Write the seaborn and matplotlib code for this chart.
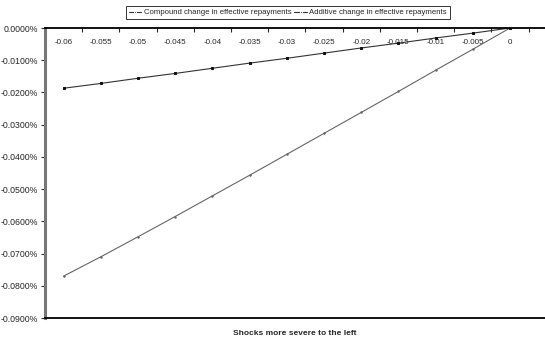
import pandas as pd
import numpy as np
import seaborn as sns
import matplotlib.pyplot as plt
from matplotlib.ticker import FuncFormatter, FixedLocator

# shock sizes (categories, left to right)
shocks = ['-0.06', '-0.055', '-0.05', '-0.045', '-0.04', '-0.035', '-0.03',
          '-0.025', '-0.02', '-0.015', '-0.01', '-0.005', '0']

# percent change in effective repayments (values in %)
compound = [-0.0770, -0.0710, -0.0648, -0.0585, -0.0521, -0.0457, -0.0392,
            -0.0327, -0.0262, -0.0197, -0.0131, -0.0066, 0.0]
additive = [-0.0187, -0.0172, -0.0156, -0.0141, -0.0125, -0.0109, -0.0094,
            -0.0078, -0.0062, -0.0047, -0.0031, -0.0016, 0.0]

y_ticks = [0.0, -0.01, -0.02, -0.03, -0.04, -0.05, -0.06, -0.07, -0.08, -0.09]

df = pd.DataFrame({
    'pos': list(range(len(shocks))) * 2,
    'value': compound + additive,
    'series': ['Compound change in effective repayments'] * len(shocks)
              + ['Additive change in effective repayments'] * len(shocks),
})

sns.set_style('white')
plt.rcParams['font.family'] = ['Liberation Sans', 'DejaVu Sans']

fig = plt.figure(figsize=(5.45, 3.37), dpi=100)
ax = fig.add_axes([45 / 545, 19 / 337, 500 / 545, 290 / 337])

sns.lineplot(data=df, x='pos', y='value', hue='series', style='series',
             palette=['#666666', '#333333'], markers=['o', 's'], dashes=False,
             linewidth=0.8, ax=ax)

# compound points are barely visible in the original, additive ones are small squares
ax.lines[0].set_markersize(1.0)
ax.lines[0].set_markeredgecolor('#666666')
ax.lines[1].set_markersize(2.0)
ax.lines[1].set_markeredgecolor('#111111')
ax.lines[1].set_markerfacecolor('#111111')

ax.set_ylim(-0.09, 0.0)
ax.set_xlim(-0.5, 12.94)
ax.yaxis.set_major_locator(FixedLocator(y_ticks))
ax.yaxis.set_major_formatter(FuncFormatter(lambda v, p: f'{v:.4f}%'))
ax.tick_params(axis='y', left=True, direction='out', length=3, width=0.8,
               labelsize=6.3, pad=2, color='#333333')

# category labels just below the zero line at the top
ax.set_xticks(range(len(shocks)))
ax.set_xticklabels(shocks)
ax.set_xticks(np.arange(-0.5, len(shocks) + 0.5, 1.0), minor=True)
ax.tick_params(axis='x', which='major', top=True, bottom=False, labeltop=True,
               labelbottom=False, length=0, pad=-13, labelsize=5.8)
ax.tick_params(axis='x', which='minor', top=True, bottom=False,
               direction='in', length=3, width=0.8)

for s in ['top', 'bottom']:
    ax.spines[s].set_color('black')
    ax.spines[s].set_linewidth(1.3)
ax.spines['left'].set_color('#777777')
ax.spines['left'].set_linewidth(2.2)
ax.spines['right'].set_visible(False)

ax.set_ylabel('')
ax.set_xlabel('Shocks more severe to the left', fontsize=6.0,
              fontweight='bold', labelpad=5)

handles, labels = ax.get_legend_handles_labels()
for h in handles:
    h.set_markersize(1.5)
    h.set_color('#333333')
ax.legend(handles, labels, loc='upper center', bbox_to_anchor=(0.528, 0.983),
          bbox_transform=fig.transFigure, ncol=2, fontsize=5.6, frameon=True,
          fancybox=False, edgecolor='black', handlelength=1.6,
          handletextpad=0.3, columnspacing=0.4, borderpad=0.4,
          borderaxespad=0)
ax.get_legend().get_frame().set_linewidth(0.7)

fig.savefig('out.png', dpi=100)
